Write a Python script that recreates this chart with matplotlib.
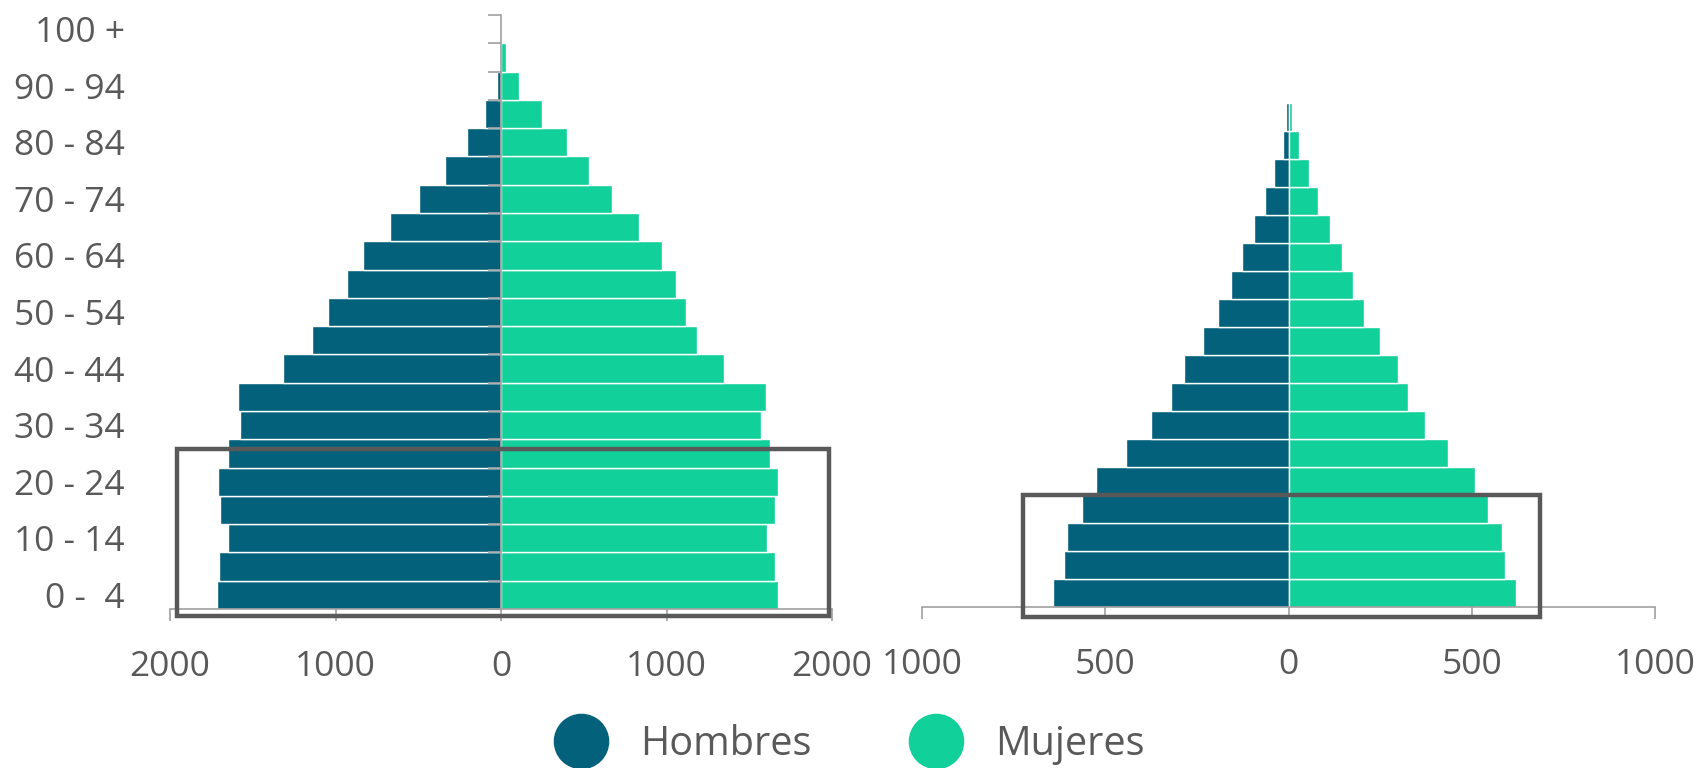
import matplotlib.pyplot as plt
import numpy as np
from matplotlib.ticker import FuncFormatter, FixedLocator
from matplotlib.lines import Line2D
from matplotlib.patches import Rectangle

plt.rcParams['font.family'] = ['Open Sans', 'DejaVu Sans']

# grupos de edad (de abajo hacia arriba)
edades = ['0 -  4', '5 -  9', '10 - 14', '15 - 19', '20 - 24', '25 - 29', '30 - 34',
          '35 - 39', '40 - 44', '45 - 49', '50 - 54', '55 - 59', '60 - 64', '65 - 69',
          '70 - 74', '75 - 79', '80 - 84', '85 - 89', '90 - 94', '95 - 99', '100 +']

# piramide izquierda
hombres_1 = [1719, 1703, 1650, 1696, 1709, 1650, 1578, 1592, 1317, 1140, 1048, 933,
             831, 668, 498, 337, 203, 95, 23, 3, 0]
mujeres_1 = [1671, 1654, 1608, 1654, 1671, 1625, 1569, 1602, 1346, 1182, 1120, 1058,
             973, 832, 671, 534, 396, 246, 108, 28, 3]

# piramide derecha (0-4 hasta 85-89)
hombres_2 = [643, 612, 604, 563, 524, 443, 375, 320, 284, 232, 191, 158, 126, 95, 64, 40, 16, 7]
mujeres_2 = [622, 591, 582, 545, 508, 434, 373, 327, 298, 249, 207, 176, 145, 113, 81, 56, 30, 10]

c_h = '#04617b'
c_m = '#11d09a'
gris_txt = '#595959'
gris_eje = '#a0a0a0'
FS = 25.5

fig = plt.figure(figsize=(17, 7.68), dpi=100)
W, H = 1700, 768

def px_axes(x0, x1, ytop, ybot):
    return fig.add_axes([x0 / W, 1 - ybot / H, (x1 - x0) / W, (ybot - ytop) / H])

abs_fmt = FuncFormatter(lambda v, p: f'{abs(int(v))}')

# ---- izquierda
ax1 = px_axes(170, 832, 15, 609)
y1 = np.arange(len(edades))
ax1.barh(y1, [-v for v in hombres_1], height=1.0, color=c_h, edgecolor='white', linewidth=1.0, zorder=1)
ax1.barh(y1, mujeres_1, height=1.0, color=c_m, edgecolor='white', linewidth=1.0, zorder=1)
ax1.set_xlim(-2000, 2000)
ax1.set_ylim(-0.5, len(edades) - 0.5)
ax1.set_xticks([-2000, -1000, 0, 1000, 2000])
ax1.xaxis.set_major_formatter(abs_fmt)
ax1.set_yticks(y1[::2])
ax1.set_yticklabels(edades[::2])
ax1.yaxis.set_minor_locator(FixedLocator(np.arange(-0.5, len(edades), 1.0)))
ax1.yaxis.set_ticks_position('both')
ax1.tick_params(axis='y', which='major', left=False, right=False, labelleft=True,
                labelright=False, pad=29, labelsize=FS, labelcolor=gris_txt)
ax1.tick_params(axis='y', which='minor', left=False, right=True, direction='in',
                length=9.5, width=1.2, color=gris_eje)
ax1.spines['right'].set_position(('data', 0))
ax1.spines['right'].set_color(gris_eje)
ax1.spines['right'].set_linewidth(1.2)
ax1.spines['left'].set_visible(False)
ax1.spines['top'].set_visible(False)

# ---- derecha
ax2 = px_axes(922, 1655, 103, 607)
y2 = np.arange(len(hombres_2))
ax2.barh(y2, [-v for v in hombres_2], height=1.0, color=c_h, edgecolor='white', linewidth=1.0)
ax2.barh(y2, mujeres_2, height=1.0, color=c_m, edgecolor='white', linewidth=1.0)
ax2.set_xlim(-1000, 1000)
ax2.set_ylim(-0.5, len(hombres_2) - 0.5)
ax2.set_xticks([-1000, -500, 0, 500, 1000])
ax2.xaxis.set_major_formatter(abs_fmt)
ax2.set_yticks([])
for s in ['left', 'right', 'top']:
    ax2.spines[s].set_visible(False)

for ax in (ax1, ax2):
    ax.spines['bottom'].set_color(gris_eje)
    ax.spines['bottom'].set_linewidth(1.2)
    ax.tick_params(axis='x', direction='out', length=8.5, width=1.2, color=gris_eje,
                   labelsize=FS, labelcolor=gris_txt, pad=21)

# ---- recuadros de resalte
for (x0, x1, yt, yb) in [(177, 829, 449, 616), (1023, 1540, 495, 617)]:
    fig.add_artist(Rectangle((x0 / W, 1 - yb / H), (x1 - x0) / W, (yb - yt) / H,
                             transform=fig.transFigure, fill=False,
                             edgecolor=gris_txt, linewidth=3.2, zorder=5))

# ---- leyenda
handles = [Line2D([], [], marker='o', linestyle='none', markersize=39, color=c_h),
           Line2D([], [], marker='o', linestyle='none', markersize=39, color=c_m)]
fig.legend(handles, ['Hombres', 'Mujeres'], loc='center', bbox_to_anchor=(0.5, 0.03),
           ncol=2, frameon=False, fontsize=28.5, labelcolor=gris_txt,
           handlelength=1.3, handletextpad=0.85, columnspacing=2.5, borderpad=0)

fig.savefig('out.png', dpi=100)
